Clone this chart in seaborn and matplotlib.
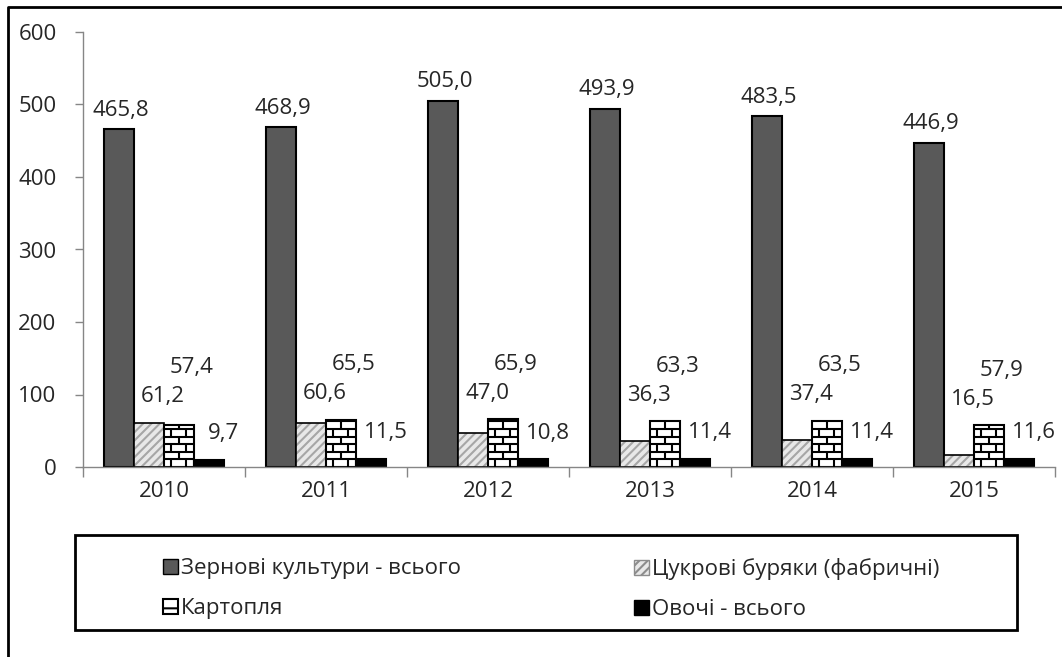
import matplotlib
matplotlib.use('Agg')
import matplotlib.pyplot as plt
from matplotlib.patches import Patch, Rectangle
from matplotlib.lines import Line2D
import seaborn as sns
import pandas as pd
import numpy as np

# Дані з діаграми
years = ['2010', '2011', '2012', '2013', '2014', '2015']
crops = ['Зернові культури - всього', 'Цукрові буряки (фабричні)', 'Картопля', 'Овочі - всього']
grain = [465.8, 468.9, 505.0, 493.9, 483.5, 446.9]
sugar_beet = [61.2, 60.6, 47.0, 36.3, 37.4, 16.5]
potato = [57.4, 65.5, 65.9, 63.3, 63.5, 57.9]
vegetables = [9.7, 11.5, 10.8, 11.4, 11.4, 11.6]

df = pd.DataFrame({
    'year': years * 4,
    'crop': np.repeat(crops, len(years)),
    'value': grain + sugar_beet + potato + vegetables,
})

sns.set_style('white')
plt.rcParams['font.family'] = ['Open Sans', 'DejaVu Sans']
plt.rcParams['hatch.linewidth'] = 1.5
FS = 16
AXIS_GRAY = '#868686'

W, H = 1062, 657
fig = plt.figure(figsize=(W / 100, H / 100), dpi=100)
ax = fig.add_axes([83 / W, 1 - 467 / H, (1055 - 83) / W, (467 - 32) / H])

palette = {crops[0]: '#595959', crops[1]: '#e8e8e8', crops[2]: 'white', crops[3]: 'black'}
sns.barplot(data=df, x='year', y='value', hue='crop', hue_order=crops, order=years,
            palette=palette, saturation=1, width=0.74, gap=0, legend=False,
            edgecolor='black', linewidth=1.5, ax=ax)

# Цукрові буряки: сіре штрихування + чорний контур
for bar in ax.containers[1]:
    bar.set_hatch('////')
    bar.set_edgecolor('#a6a6a6')
    bar.set_linewidth(0)
    ax.add_patch(Rectangle((bar.get_x(), 0), bar.get_width(), bar.get_height(),
                           fill=False, ec='black', lw=1.2, zorder=bar.get_zorder() + 0.1))

# Картопля: візерунок «цегла»
brick = 10.5
for bar in ax.containers[2]:
    x0, w, h = bar.get_x(), bar.get_width(), bar.get_height()
    levels = np.arange(brick, h - 1, brick)
    ax.hlines(levels, x0, x0 + w, color='black', lw=1.5, zorder=3)
    edges = np.concatenate([[0], levels, [h]])
    for i in range(len(edges) - 1):
        xs = [x0 + w * 0.5] if i % 2 else [x0 + w * 0.25, x0 + w * 0.75]
        ax.vlines(xs, edges[i], edges[i + 1], color='black', lw=1.5, zorder=3)


def fmt(v):
    return f'{v:.1f}'.replace('.', ',')


# Підписи значень
for bar in ax.containers[0]:
    v = bar.get_height()
    ax.annotate(fmt(v), xy=(bar.get_x() + bar.get_width() / 2, v), xytext=(2, 19),
                textcoords='offset pixels', ha='center', va='center', fontsize=FS)
for bar in ax.containers[3]:
    v = bar.get_height()
    ax.annotate(fmt(v), xy=(bar.get_x() + bar.get_width() / 2, v), xytext=(15, 26),
                textcoords='offset pixels', ha='center', va='center', fontsize=FS)
# буряки та картопля: підписи над вищим із двох стовпчиків
for b_s, b_p in zip(ax.containers[1], ax.containers[2]):
    top = max(b_s.get_height(), b_p.get_height())
    ax.annotate(fmt(b_s.get_height()), xy=(b_s.get_x() + b_s.get_width() / 2, top),
                xytext=(14, 26), textcoords='offset pixels', ha='center', va='center',
                fontsize=FS)
    ax.annotate(fmt(b_p.get_height()), xy=(b_p.get_x() + b_p.get_width() / 2, top),
                xytext=(13, 55), textcoords='offset pixels', ha='center', va='center',
                fontsize=FS)

ax.set_ylim(0, 600)
ax.set_xlim(-0.5, len(years) - 0.5)
ax.set_yticks(range(0, 601, 100))
ax.set_xticks(range(len(years)))
ax.set_xticks(np.arange(-0.5, len(years)), minor=True)
ax.set_xlabel('')
ax.set_ylabel('')
ax.tick_params(axis='y', which='major', length=6, width=1, color=AXIS_GRAY,
               labelsize=FS, pad=13, left=True)
ax.tick_params(axis='x', which='major', length=0, labelsize=FS, pad=10)
ax.tick_params(axis='x', which='minor', length=7, width=1, color=AXIS_GRAY, bottom=True)
for side in ['top', 'right']:
    ax.spines[side].set_visible(False)
for side in ['left', 'bottom']:
    ax.spines[side].set_color(AXIS_GRAY)
    ax.spines[side].set_linewidth(1)

# Легенда (дві колонки)
h_grain = Patch(facecolor='#595959', edgecolor='black', lw=1)
h_sugar = Patch(facecolor='#e8e8e8', edgecolor='#8c8c8c', hatch='////', lw=1)
h_potato = Patch(facecolor='white', edgecolor='black', hatch='-', lw=1.5)
h_veg = Patch(facecolor='black', edgecolor='black', lw=1)
leg_kw = dict(frameon=False, fontsize=FS, borderpad=0, handlelength=0.65,
              handleheight=0.65, handletextpad=0.15, labelspacing=0.85, loc='upper left')
fig.legend(handles=[h_grain, h_potato], labels=[crops[0], crops[2]],
           bbox_to_anchor=(152 / W, 1 - 547 / H), **leg_kw)
fig.legend(handles=[h_sugar, h_veg], labels=[crops[1], crops[3]],
           bbox_to_anchor=(623 / W, 1 - 547 / H), **leg_kw)
fig.add_artist(Rectangle((75 / W, 1 - 630 / H), (1017 - 75) / W, (630 - 535) / H,
                         transform=fig.transFigure, fill=False, ec='black', lw=2))

# Рамка області діаграми
fig.add_artist(Line2D([8 / W, 8 / W, 1], [0, 1 - 7 / H, 1 - 7 / H],
                      transform=fig.transFigure, color='black', lw=2))

fig.savefig('out.png', dpi=100)
